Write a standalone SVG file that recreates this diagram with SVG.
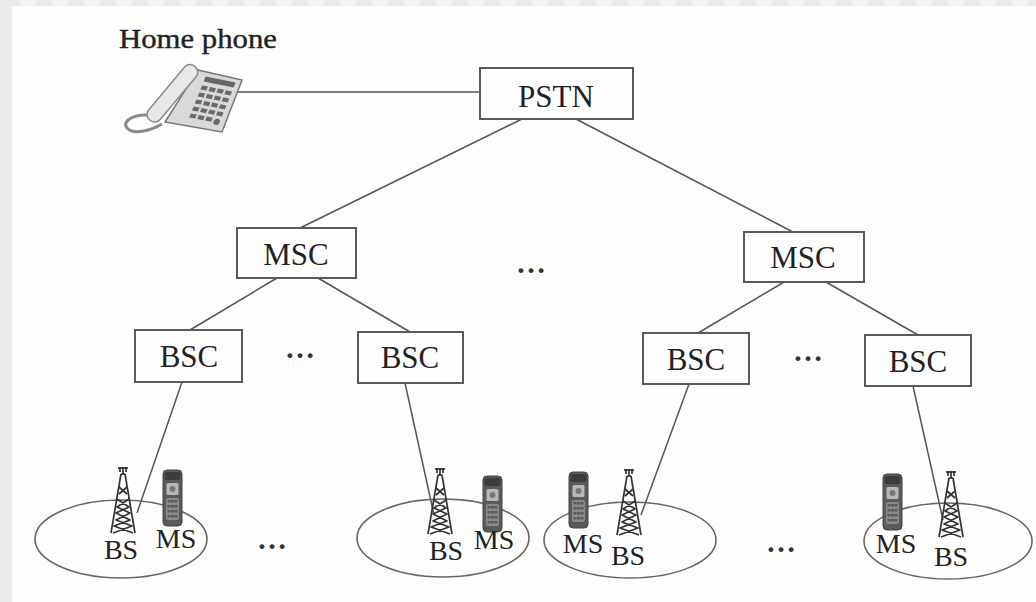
<svg xmlns="http://www.w3.org/2000/svg" width="1036" height="602" viewBox="0 0 1036 602">
<defs>
<pattern id="tiles" x="4" y="0" width="32" height="6" patternUnits="userSpaceOnUse">
<rect x="0" y="0" width="16" height="6" fill="#ebebeb"/>
<rect x="16" y="0" width="16" height="6" fill="#f4f4f4"/>
</pattern>
<symbol id="tower" overflow="visible">
<g fill="none" stroke="#333" stroke-width="1.7" stroke-linejoin="round">
<line x1="-5" y1="1" x2="5" y2="1"/>
<line x1="-3" y1="0" x2="-3" y2="5"/>
<line x1="0" y1="0" x2="0" y2="7"/>
<line x1="3" y1="0" x2="3" y2="5"/>
<line x1="-2" y1="7" x2="-12" y2="66"/>
<line x1="2" y1="7" x2="12" y2="66"/>
<line x1="-2" y1="7" x2="2" y2="7"/>
<path d="M-6,32 L6,40 L-7,46 L7,53 L-9,59 L10,66 M6,32 L-6,40 L7,46 L-7,53 L9,59 L-10,66"/>
<path d="M-4,20 L4,27 M4,20 L-4,27"/>
</g>
</symbol>
<symbol id="mobile" overflow="visible">
<rect x="0" y="0" width="19" height="56" rx="4" fill="#5a5a5a" stroke="#444" stroke-width="1"/>
<rect x="1.5" y="2" width="16" height="8" rx="2" fill="#3c3c3c"/>
<rect x="3.5" y="13" width="12" height="12" rx="1.5" fill="#b8b8b8"/>
<circle cx="9.5" cy="19" r="3" fill="#777"/>
<rect x="3" y="28" width="13" height="22" rx="2" fill="#8a8a8a"/>
<g fill="#5a5a5a">
<rect x="4.5" y="30" width="3" height="2.5"/><rect x="8" y="30" width="3" height="2.5"/><rect x="11.5" y="30" width="3" height="2.5"/>
<rect x="4.5" y="35" width="3" height="2.5"/><rect x="8" y="35" width="3" height="2.5"/><rect x="11.5" y="35" width="3" height="2.5"/>
<rect x="4.5" y="40" width="3" height="2.5"/><rect x="8" y="40" width="3" height="2.5"/><rect x="11.5" y="40" width="3" height="2.5"/>
<rect x="4.5" y="45" width="3" height="2.5"/><rect x="8" y="45" width="3" height="2.5"/><rect x="11.5" y="45" width="3" height="2.5"/>
</g>
</symbol>
</defs>
<style>
.box{fill:none;stroke:#5a5a5a;stroke-width:2}
.lbl{font-family:"Liberation Serif","Times New Roman",serif;font-size:31px;fill:#222;text-anchor:middle}
.sm{font-family:"Liberation Serif","Times New Roman",serif;font-size:28px;fill:#222;text-anchor:middle}
.dots{font-family:"Liberation Serif","Times New Roman",serif;font-size:30px;font-weight:bold;fill:#333;text-anchor:middle}
.cell{fill:none;stroke:#666;stroke-width:1.6}
.conn line{stroke:#555;stroke-width:1.5}
</style>
<rect x="0" y="0" width="1036" height="602" fill="#fdfdfd"/>
<rect x="0" y="0" width="1036" height="6" fill="url(#tiles)"/>
<rect x="0" y="0" width="12" height="602" fill="#ebebeb"/>

<g id="connectors" class="conn">
<line x1="238" y1="92" x2="480" y2="92"/>
<line x1="522" y1="119" x2="300" y2="228"/>
<line x1="576" y1="119" x2="793" y2="232"/>
<line x1="277" y1="278" x2="190" y2="330"/>
<line x1="318" y1="278" x2="410" y2="332"/>
<line x1="784" y1="282" x2="698" y2="333"/>
<line x1="826" y1="282" x2="918" y2="335"/>
<line x1="182" y1="382" x2="137" y2="513"/>
<line x1="405" y1="383" x2="434" y2="515"/>
<line x1="689" y1="384" x2="641" y2="515"/>
<line x1="913" y1="386" x2="943" y2="520"/>
</g>

<g id="home-phone">
<text x="119" y="48" font-family="'Liberation Serif','Times New Roman',serif" font-size="28" fill="#222" stroke="#222" stroke-width="0.4" textLength="158" lengthAdjust="spacingAndGlyphs">Home phone</text>
<path d="M152,116 C136,112 121,121 127,128 C133,135 150,131 162,124" fill="none" stroke="#8a8a8a" stroke-width="3"/>
<polygon points="198,70 242,80 222,132 165,122" fill="#d9d9d9" stroke="#777" stroke-width="1.5"/>
<rect x="137" y="86" width="70" height="15" rx="7" transform="rotate(-50 172 93)" fill="#e8e8e8" stroke="#8a8a8a" stroke-width="1.5"/>
<g transform="matrix(1,0.2,-0.4,1,202,80)">
<rect x="2" y="-4" width="30" height="5" fill="#666"/>
<g fill="#6a6a6a">
<rect x="2" y="5" width="6" height="4"/><rect x="10" y="5" width="6" height="4"/><rect x="18" y="5" width="6" height="4"/><rect x="26" y="5" width="6" height="4"/>
<rect x="2" y="12" width="6" height="4"/><rect x="10" y="12" width="6" height="4"/><rect x="18" y="12" width="6" height="4"/><rect x="26" y="12" width="6" height="4"/>
<rect x="2" y="19" width="6" height="4"/><rect x="10" y="19" width="6" height="4"/><rect x="18" y="19" width="6" height="4"/><rect x="26" y="19" width="6" height="4"/>
<rect x="2" y="26" width="6" height="4"/><rect x="10" y="26" width="6" height="4"/><rect x="18" y="26" width="6" height="4"/><rect x="26" y="26" width="6" height="4"/>
<rect x="2" y="33" width="6" height="4"/><rect x="10" y="33" width="6" height="4"/><rect x="18" y="33" width="6" height="4"/><circle cx="29" cy="36" r="3"/>
</g>
</g>
</g>

<g id="pstn"><rect class="box" x="480" y="68" width="153" height="51"/><text class="lbl" x="556" y="107">PSTN</text></g>

<g id="msc-left"><rect class="box" x="237" y="228" width="119" height="50"/><text class="lbl" x="296" y="265">MSC</text></g>
<g id="msc-right"><rect class="box" x="744" y="232" width="120" height="50"/><text class="lbl" x="803" y="268">MSC</text></g>
<text class="dots" x="531" y="273">…</text>

<g id="bsc-1"><rect class="box" x="135" y="330" width="107" height="52"/><text class="lbl" x="189" y="367">BSC</text></g>
<g id="bsc-2"><rect class="box" x="358" y="332" width="105" height="51"/><text class="lbl" x="410" y="368">BSC</text></g>
<text class="dots" x="300" y="358">…</text>
<g id="bsc-3"><rect class="box" x="643" y="333" width="106" height="51"/><text class="lbl" x="696" y="370">BSC</text></g>
<g id="bsc-4"><rect class="box" x="865" y="335" width="106" height="51"/><text class="lbl" x="918" y="372">BSC</text></g>
<text class="dots" x="808" y="361">…</text>

<g id="cell-1">
<ellipse class="cell" cx="121" cy="539" rx="86" ry="39"/>
<use href="#tower" x="123" y="467"/>
<use href="#mobile" x="163" y="470"/>
<text class="sm" x="121" y="559">BS</text>
<text class="sm" x="176" y="548">MS</text>
</g>
<g id="cell-2">
<ellipse class="cell" cx="443" cy="538" rx="86" ry="39"/>
<use href="#tower" x="440" y="468"/>
<use href="#mobile" x="483" y="476"/>
<text class="sm" x="446" y="560">BS</text>
<text class="sm" x="494" y="549">MS</text>
</g>
<text class="dots" x="272" y="549">…</text>
<g id="cell-3">
<ellipse class="cell" cx="630" cy="540" rx="86" ry="38"/>
<use href="#mobile" x="569" y="472"/>
<use href="#tower" x="629" y="469"/>
<text class="sm" x="583" y="553">MS</text>
<text class="sm" x="628" y="565">BS</text>
</g>
<text class="dots" x="781" y="552">…</text>
<g id="cell-4">
<ellipse class="cell" cx="948" cy="541" rx="84" ry="38"/>
<use href="#mobile" x="883" y="474"/>
<use href="#tower" x="951" y="471"/>
<text class="sm" x="896" y="553">MS</text>
<text class="sm" x="951" y="566">BS</text>
</g>
</svg>
